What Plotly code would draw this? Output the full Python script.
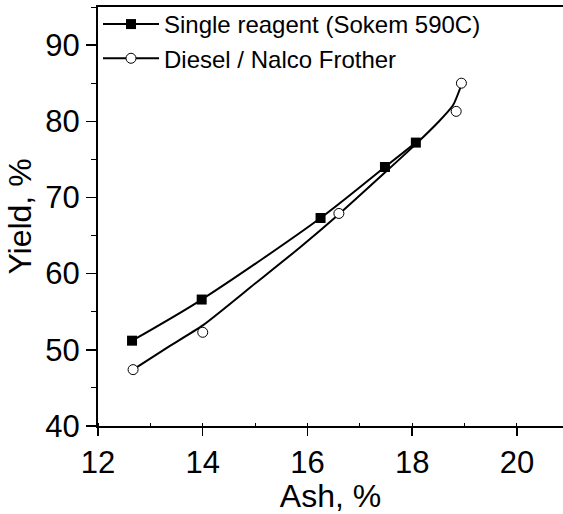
import plotly.graph_objects as go

# Data
single_ash = [12.65, 13.98, 16.25, 17.48, 18.07]
single_yield = [51.2, 56.6, 67.3, 74.0, 77.2]

diesel_ash = [12.67, 14.0, 16.6, 18.84, 18.94]
diesel_yield = [47.4, 52.3, 67.9, 81.3, 85.0]

# Fitted curve for Diesel / Nalco Frother
diesel_fit_ash = [12.67, 13.3, 14.0, 15.0, 15.85, 16.6, 17.5, 18.07, 18.5, 18.78, 18.93]
diesel_fit_yield = [47.4, 50.2, 53.2, 58.7, 63.4, 67.8, 73.4, 77.0, 79.9, 82.1, 84.6]

x_ticks = [12, 14, 16, 18, 20]
y_ticks = [40, 50, 60, 70, 80, 90]

FONT = "Liberation Sans, Arial, sans-serif"

fig = go.Figure()

fig.add_trace(go.Scatter(
    x=single_ash, y=single_yield, mode="lines+markers",
    name="Single reagent (Sokem 590C)",
    line=dict(color="black", width=2, shape="spline", smoothing=0.8),
    marker=dict(symbol="square", size=10, color="black"),
))

fig.add_trace(go.Scatter(
    x=diesel_fit_ash, y=diesel_fit_yield, mode="lines",
    line=dict(color="black", width=2, shape="spline", smoothing=0.6),
    showlegend=False, hoverinfo="skip",
))

fig.add_trace(go.Scatter(
    x=diesel_ash, y=diesel_yield, mode="markers",
    showlegend=False,
    marker=dict(symbol="circle", size=10, color="white",
                line=dict(color="black", width=1)),
))
# legend-only entry showing line + circle
fig.add_trace(go.Scatter(
    x=[None], y=[None], mode="lines+markers",
    name="Diesel / Nalco Frother",
    line=dict(color="black", width=2),
    marker=dict(symbol="circle", size=10, color="white",
                line=dict(color="black", width=1)),
))

fig.update_layout(
    width=563, height=514,
    margin=dict(l=98, r=0, t=7, b=88),
    paper_bgcolor="white", plot_bgcolor="white",
    font=dict(family=FONT, color="black"),
    showlegend=True,
    legend=dict(x=0.0, y=1.012, xanchor="left", yanchor="top",
                bgcolor="rgba(0,0,0,0)", borderwidth=0,
                font=dict(size=24, family=FONT), itemwidth=56,
                tracegroupgap=0),
    xaxis=dict(
        range=[12, 20.88], tickvals=x_ticks, ticktext=[str(v) for v in x_ticks],
        showgrid=False, zeroline=False, automargin=False,
        showline=True, linecolor="black", linewidth=2, mirror=True,
        ticks="outside", ticklen=8, tickwidth=1.5, tickcolor="black",
        tickfont=dict(size=31, family=FONT),
        minor=dict(dtick=1, ticks="inside", ticklen=3, tickcolor="black", tickwidth=1),
        title=dict(text="Ash, %", font=dict(size=32, family=FONT), standoff=2),
    ),
    yaxis=dict(
        range=[40, 95], tickvals=y_ticks, ticktext=[str(v) for v in y_ticks],
        showgrid=False, zeroline=False, automargin=False,
        showline=True, linecolor="black", linewidth=2, mirror=False,
        ticks="outside", ticklen=10, tickwidth=1.5, tickcolor="black",
        tickfont=dict(size=31, family=FONT),
        minor=dict(dtick=5, ticks="outside", ticklen=5, tickcolor="black", tickwidth=1),
        title=dict(text="Yield, %", font=dict(size=32, family=FONT), standoff=4),
    ),
)

fig.write_html("out.html",
               config={"displayModeBar": False, "staticPlot": True},
               post_script="document.body.style.margin='0px';document.body.style.overflow='hidden';")
